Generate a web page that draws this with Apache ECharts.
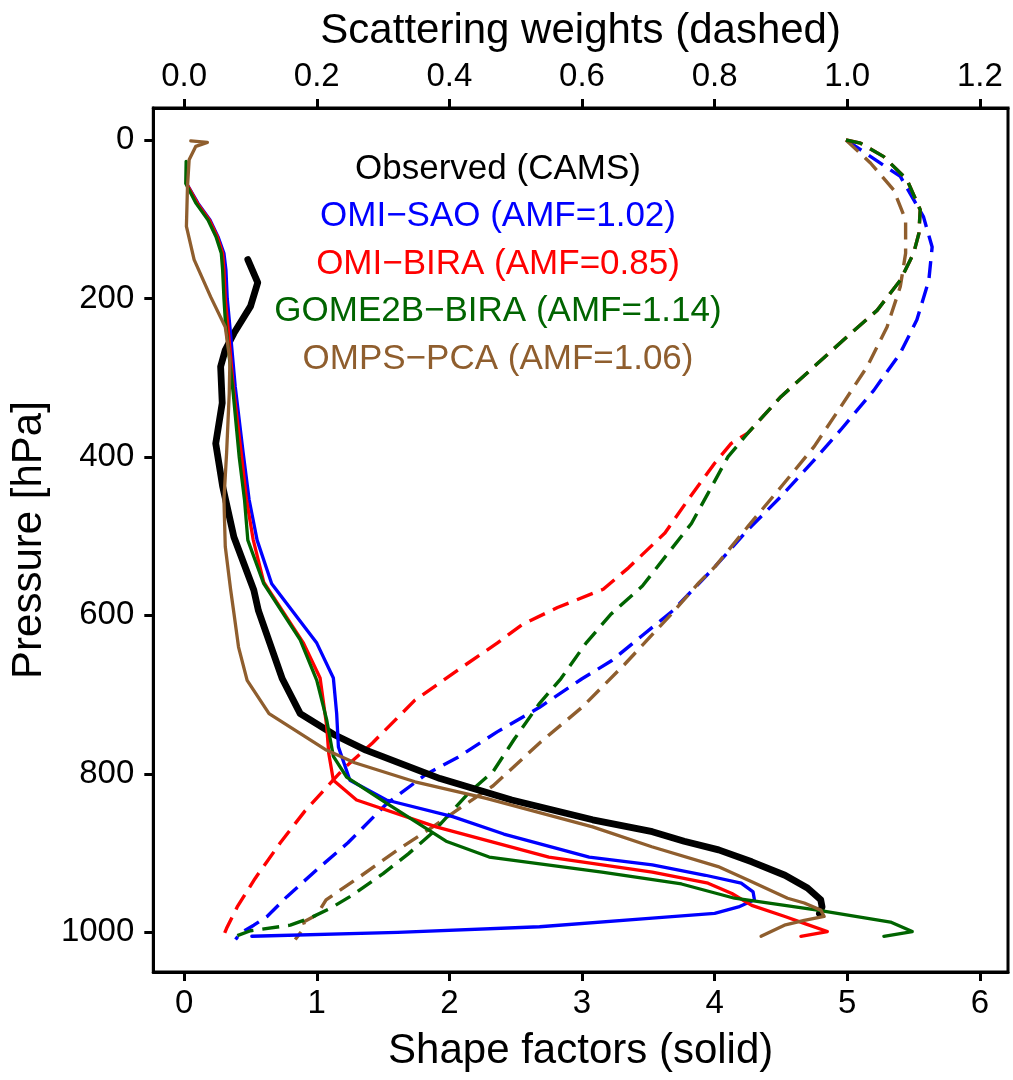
<!DOCTYPE html>
<html>
<head>
<meta charset="utf-8">
<script src="https://cdn.jsdelivr.net/npm/echarts@6/dist/echarts.min.js"></script>
<style>
html,body{margin:0;padding:0;background:#fff;}
#chart{width:1013px;height:1080px;}
</style>
</head>
<body>
<div id="chart"></div>
<script>
// ---------- Data (pressure in hPa; shape factors on bottom axis, scattering weights on top axis) ----------
const sfTicks = [0, 1, 2, 3, 4, 5, 6];
const swTicks = [0.0, 0.2, 0.4, 0.6, 0.8, 1.0, 1.2];
const pTicks = [0, 200, 400, 600, 800, 1000];

const legendLabels = ["Observed (CAMS)", "OMI\u2212SAO (AMF=1.02)", "OMI\u2212BIRA (AMF=0.85)", "GOME2B\u2212BIRA (AMF=1.14)", "OMPS\u2212PCA (AMF=1.06)"];

// Observed (CAMS) shape factor
const obsP  = [151,180,210,244,265,286,332,383,437,501,568,594,680,724,750,770,806,833,858,873,885,896,911,928,944,959,968,976];
const obsSF = [0.48,0.555,0.50,0.375,0.31,0.275,0.287,0.238,0.29,0.375,0.525,0.56,0.74,0.875,1.125,1.37,1.93,2.47,3.08,3.53,3.77,4.03,4.28,4.53,4.70,4.80,4.81,4.79];

// OMI-SAO shape factor
const saoP  = [57,80,101,122,143,164,200,236,311,395,454,505,560,635,679,724,766,808,833,854,876,905,915,928,938,949,959,968,976,982,993,1000,1005];
const saoSF = [0.025,0.105,0.195,0.255,0.30,0.315,0.325,0.345,0.385,0.445,0.49,0.55,0.66,1.0,1.125,1.15,1.163,1.25,1.525,2.025,2.41,3.054,3.53,3.93,4.20,4.29,4.30,4.18,4.00,3.53,2.68,1.61,0.51];

// OMI-BIRA shape factor
const biraP  = [57,80,101,122,143,164,200,236,311,395,454,504,558,635,679,740,774,808,833,867,905,924,938,951,966,980,989,999,1005];
const biraSF = [0.025,0.10,0.19,0.25,0.29,0.30,0.31,0.33,0.37,0.43,0.47,0.52,0.60,0.90,1.025,1.075,1.09,1.125,1.30,1.90,2.75,3.53,3.95,4.13,4.28,4.53,4.68,4.85,4.65];

// GOME2B-BIRA shape factor
const gomeP  = [27,55,80,101,122,143,164,200,227,320,400,454,505,560,631,682,732,778,804,837,885,905,924,939,957,972,987,999,1005];
const gomeSF = [0.015,0.012,0.09,0.18,0.24,0.28,0.29,0.30,0.31,0.37,0.415,0.455,0.48,0.60,0.875,1.0,1.075,1.125,1.225,1.525,1.975,2.30,3.15,3.75,4.15,4.776,5.326,5.49,5.276];

// OMPS-PCA shape factor
const ompsP  = [1,3,8,25,59,109,151,198,236,278,320,395,454,513,567,597,640,682,724,770,786,810,831,867,892,917,936,957,963,972,980,985,991,1005];
const ompsSF = [0.05,0.175,0.088,0.0375,0.025,0.017,0.075,0.20,0.31,0.345,0.34,0.32,0.30,0.31,0.35,0.375,0.41,0.475,0.64,1.072,1.286,1.741,2.278,3.08,3.526,4.026,4.276,4.55,4.676,4.80,4.826,4.676,4.526,4.35];

// Scattering weights (dashed)
const saoSwP  = [1,46,97,135,177,227,269,316,366,404,450,492,539,594,626,657,680,716,747,779,801,838,887,921,955,980,991,1001,1009];
const saoSW   = [1.0,1.08,1.115,1.128,1.123,1.105,1.08,1.04,0.99,0.95,0.90,0.85,0.80,0.737,0.69,0.645,0.60,0.536,0.472,0.413,0.364,0.305,0.247,0.20,0.155,0.125,0.105,0.085,0.0775];

const biraSwP = [0,4,21,50,88,118,143,177,215,248,286,324,370,383,408,454,496,540,567,590,612,635,666,707,761,793,847,887,932,968,995,1005];
const biraSW  = [0.998,1.02,1.055,1.09,1.11,1.108,1.10,1.08,1.045,1.00,0.95,0.90,0.85,0.825,0.80,0.76,0.725,0.67,0.632,0.563,0.509,0.472,0.418,0.348,0.284,0.241,0.182,0.145,0.107,0.08,0.064,0.059];

const gomeSwP = [0,4,21,50,88,118,143,177,215,248,286,324,370,400,446,484,517,563,599,635,680,711,756,797,824,874,901,926,955,970,982,991,998,1005];
const gomeSW  = [0.998,1.02,1.055,1.09,1.11,1.108,1.10,1.08,1.045,1.00,0.95,0.90,0.85,0.82,0.79,0.765,0.734,0.691,0.643,0.606,0.568,0.536,0.498,0.466,0.429,0.375,0.338,0.30,0.25,0.22,0.19,0.16,0.10,0.0775];

const ompsSwP = [0,29,63,101,143,185,236,286,337,387,438,488,539,558,599,662,716,761,815,842,867,896,928,959,978,987,993,1001,1009];
const ompsSW  = [0.998,1.035,1.07,1.088,1.088,1.08,1.06,1.03,0.99,0.95,0.90,0.85,0.80,0.777,0.734,0.664,0.60,0.536,0.466,0.418,0.375,0.322,0.268,0.214,0.20,0.18,0.1825,0.175,0.1675];

// ---------- Chart ----------
const C_OBS = '#000000', C_SAO = '#0000FF', C_BIRA = '#FF0000', C_GOME = '#006400', C_OMPS = '#8F5E2E';
const FONT = '"Liberation Sans", Arial, Helvetica, sans-serif';

function pairs(xs, ps) { return xs.map((v, i) => [v, ps[i]]); }

function solid(name, xs, ps, color, width) {
  return { name: name, type: 'line', xAxisIndex: 0, yAxisIndex: 0, data: pairs(xs, ps),
    showSymbol: false, symbol: 'none', smooth: false, clip: true,
    lineStyle: { color: color, width: width, type: 'solid', cap: 'round', join: 'round' } };
}
function dashed(name, xs, ps, color) {
  return { name: name, type: 'line', xAxisIndex: 1, yAxisIndex: 0, data: pairs(xs, ps),
    showSymbol: false, symbol: 'none', smooth: false, clip: true,
    lineStyle: { color: color, width: 3.4, type: [17, 9], cap: 'butt', join: 'round' } };
}

const SF_MIN = -0.2326, SF_MAX = 6.212;
const chart = echarts.init(document.getElementById('chart'), null, { renderer: 'canvas' });

const axisCommon = {
  axisLine: { show: true, onZero: false, lineStyle: { color: '#000', width: 3 } },
  splitLine: { show: false },
  nameTextStyle: { fontFamily: FONT, fontSize: 42, color: '#000' }
};

const option = {
  animation: false,
  backgroundColor: '#ffffff',
  grid: { left: 149, top: 108, width: 859, height: 864, show: true, borderColor: '#000', borderWidth: 3, backgroundColor: 'transparent', containLabel: false },
  xAxis: [
    Object.assign({}, axisCommon, {
      type: 'value', position: 'bottom', min: SF_MIN, max: SF_MAX,
      axisTick: { show: true, inside: false, length: 9, lineStyle: { color: '#000', width: 3 }, customValues: sfTicks },
      axisLabel: { show: true, customValues: sfTicks, margin: 15, fontFamily: FONT, fontSize: 33, color: '#000', formatter: v => String(v) },
      name: 'Shape factors (solid)', nameLocation: 'middle', nameGap: 58
    }),
    Object.assign({}, axisCommon, {
      type: 'value', position: 'top', min: SF_MIN / 5, max: SF_MAX / 5,
      axisTick: { show: true, inside: false, length: 9, lineStyle: { color: '#000', width: 3 }, customValues: swTicks },
      axisLabel: { show: true, customValues: swTicks, margin: 15, fontFamily: FONT, fontSize: 33, color: '#000', formatter: v => Number(v).toFixed(1) },
      name: 'Scattering weights (dashed)', nameLocation: 'middle', nameGap: 56
    })
  ],
  yAxis: [
    Object.assign({}, axisCommon, {
      type: 'value', position: 'left', inverse: true, min: -40.4, max: 1050.1,
      axisTick: { show: true, inside: false, length: 9, lineStyle: { color: '#000', width: 3 }, customValues: pTicks },
      axisLabel: { show: true, customValues: pTicks, margin: 19, fontFamily: FONT, fontSize: 33, color: '#000', formatter: v => String(v) },
      name: 'Pressure [hPa]', nameLocation: 'middle', nameGap: 100, nameRotate: 90
    })
  ],
  graphic: legendLabels.map((t, i) => ({
    type: 'text', x: 498, y: 169 + i * 47.5, z: 100,
    style: { text: t, fill: [C_OBS, C_SAO, C_BIRA, C_GOME, C_OMPS][i], font: '35px ' + FONT, textAlign: 'center', textVerticalAlign: 'middle' }
  })),
  series: [
    dashed('OMI-SAO SW', saoSW, saoSwP, C_SAO),
    dashed('OMPS-PCA SW', ompsSW, ompsSwP, C_OMPS),
    dashed('OMI-BIRA SW', biraSW, biraSwP, C_BIRA),
    dashed('GOME2B-BIRA SW', gomeSW, gomeSwP, C_GOME),
    solid('Observed (CAMS)', obsSF, obsP, C_OBS, 6.8),
    solid('OMI-SAO', saoSF, saoP, C_SAO, 3.3),
    solid('OMI-BIRA', biraSF, biraP, C_BIRA, 3.3),
    solid('GOME2B-BIRA', gomeSF, gomeP, C_GOME, 3.3),
    solid('OMPS-PCA', ompsSF, ompsP, C_OMPS, 3.3)
  ]
};
chart.setOption(option);
</script>
</body>
</html>
